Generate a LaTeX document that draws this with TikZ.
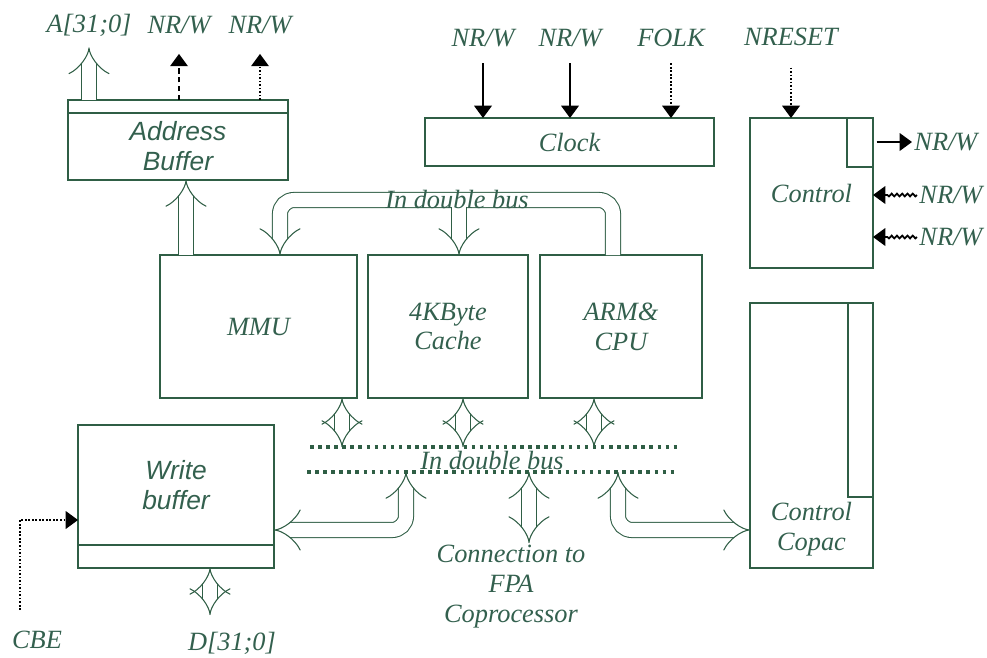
\documentclass[tikz,border=0pt]{standalone}
\usepackage{fontspec}
\setmainfont{Liberation Serif}
\setsansfont{Liberation Sans}
\usetikzlibrary{arrows.meta, positioning, calc, decorations.pathmorphing}
\definecolor{cline}{HTML}{2F5E45}
\definecolor{ctext}{HTML}{33604E}
\tikzset{
  every picture/.style={font=\fontsize{15}{17}\selectfont\itshape, line width=0.8pt},
  box/.style={draw=cline, inner sep=0pt, outer sep=0pt, align=center, text=ctext},
  sans/.style={font=\fontsize{15}{17}\selectfont\sffamily\itshape},
  lbl/.style={text=ctext, align=center, inner sep=1pt},
  dbl/.style={draw=cline, line width=0.6pt, double=white, double distance=8pt,
    {Implies[scale length=0.75]}-{Implies[scale length=0.75]}},
  sig/.style={-{Triangle[length=7pt, width=10pt]}, draw=black, line width=1pt},
  wavy/.style={decorate, decoration={snake, amplitude=0.8pt, segment length=3pt, post length=8pt}},
  busline/.style={draw=cline, line width=2.2pt, dash pattern=on 2pt off 2.6pt},
}

\begin{document}
\begin{tikzpicture}[x=0.02cm, y=-0.02cm]
  \useasboundingbox (0,0) rectangle (987,657);
  % blocks
  \node[box, minimum width=4.4cm, minimum height=0.26cm] (abs) at (178,106.5) {};
  \node[box, sans, minimum width=4.4cm, minimum height=1.34cm, below=0pt of abs] (ab) {Address\\Buffer};
  \node[box, minimum width=5.78cm, minimum height=0.96cm] (clk) at (569.5,142) {Clock};
  \node[box, minimum width=2.46cm, minimum height=3cm] (ctl) at (811.5,193) {Control};
  \node[box, minimum width=0.52cm, minimum height=0.98cm, anchor=north east] (ctls) at (ctl.north east) {};
  \node[box, minimum width=3.94cm, minimum height=2.86cm] (mmu) at (258.5,326.5) {MMU};
  \node[box, minimum width=3.2cm, minimum height=2.86cm, right=0.22cm of mmu] (cache) {4KByte\\Cache};
  \node[box, minimum width=3.24cm, minimum height=2.86cm, right=0.24cm of cache] (arm) {ARM\&\\CPU};
  \node[box, minimum width=2.46cm, minimum height=5.3cm] (ccp) at (811.5,435.5) {};
  \node[box, minimum width=0.5cm, minimum height=3.88cm, anchor=north east] (ccps) at (ccp.north east) {};
  \node[lbl] (ccpl) at ([yshift=0.78cm]ccp.south) {Control\\Copac};
  \node[box, sans, minimum width=3.92cm, minimum height=2.4cm] (wb) at (176,485) {Write\\buffer};
  \node[box, minimum width=3.92cm, minimum height=0.46cm, below=0pt of wb] (wbs) {};

  % signal labels
  \node[lbl] (alab) at (89,25) {A[31;0]};
  \node[lbl] (anr1) at (179,25) {NR/W};
  \node[lbl] (anr2) at (260,25) {NR/W};
  \node[lbl] (cnr1) at (483,38) {NR/W};
  \node[lbl] (cnr2) at (570,38) {NR/W};
  \node[lbl] (cfolk) at (671,38) {FOLK};
  \node[lbl] (nrst) at (791,37) {NRESET};
  \node[lbl, anchor=west] (onr) at (912,142) {NR/W};
  \node[lbl, anchor=west] (inr1) at (917,195) {NR/W};
  \node[lbl, anchor=west] (inr2) at (917,237) {NR/W};
  \node[lbl] (cbe) at (37,640) {CBE};
  \node[lbl] (dlab) at (232,643) {D[31;0]};
  \node[lbl, anchor=north] (fpa) at (511,543) {Connection to\\FPA\\Coprocessor};

  % bus taps
  \coordinate (bu1) at (310,447); \coordinate (bu2) at (677,447);
  \coordinate (bl1) at (307,472); \coordinate (bl2) at (675,472);
  \coordinate (u1) at (342,447); \coordinate (u2) at (463,447); \coordinate (u3) at (594,447);
  \coordinate (l1) at (406,472); \coordinate (l2) at (529,472); \coordinate (l3) at (618,472);
  \coordinate (t2) at (459,206.5); \coordinate (t3) at (613,200);
  \coordinate (d1) at (210,615); \coordinate (cb0) at (20,610);

  % double buses
  \draw[busline] (bu1) -- (bu2);
  \draw[busline] (bl1) -- (bl2);
  \draw[dbl, {Implies[scale length=0.75]}-, rounded corners=8pt] ([xshift=0.43cm]mmu.north) |- (t3) -- (arm.north -| t3);
  \draw[dbl, -{Implies[scale length=0.75]}] (t2) -- (cache.north -| t2);
  \foreach \b/\u in {mmu/u1, cache/u2, arm/u3}
    \draw[dbl] (\b.south -| \u) -- (\u);
  \draw[dbl, rounded corners=8pt] (l1) |- ([yshift=-0.9cm]wb.east);
  \draw[dbl] (l2) -- (l2 |- fpa.north);
  \draw[dbl, rounded corners=8pt] (l3) |- ([yshift=-1.89cm]ccp.west);
  \draw[dbl] (wbs.south -| d1) -- (d1);
  \draw[dbl, -{Implies[scale length=0.75]}] ([xshift=-1.45cm]mmu.north) -- ([xshift=-1.45cm]mmu.north |- ab.south);
  \draw[dbl, -{Implies[scale length=0.75]}, shorten >=5pt] (abs.north -| alab) -- (alab);
  \node[lbl] (tbus) at (457,200) {In double bus};
  \node[lbl] (bbus) at (492,460) {In double bus};

  % control signals
  \draw[sig, densely dashed, shorten >=10pt] (abs.north -| anr1) -- (anr1);
  \draw[sig, densely dotted, shorten >=10pt] (abs.north -| anr2) -- (anr2);
  \draw[sig, shorten <=8pt] (cnr1) -- (clk.north -| cnr1);
  \draw[sig, shorten <=8pt] (cnr2) -- (clk.north -| cnr2);
  \draw[sig, densely dotted, shorten <=8pt] (cfolk) -- (clk.north -| cfolk);
  \draw[sig, densely dotted, shorten <=11pt] (nrst) -- (ctl.north -| nrst);
  \draw[sig, shorten <=2pt] (ctl.east |- onr) -- (onr);
  \draw[sig, wavy] (inr1) -- (ctl.east |- inr1);
  \draw[sig, wavy] (inr2) -- (ctl.east |- inr2);
  \draw[sig, densely dotted] (cb0) |- ([yshift=-0.7cm]wb.west);
\end{tikzpicture}
\end{document}
